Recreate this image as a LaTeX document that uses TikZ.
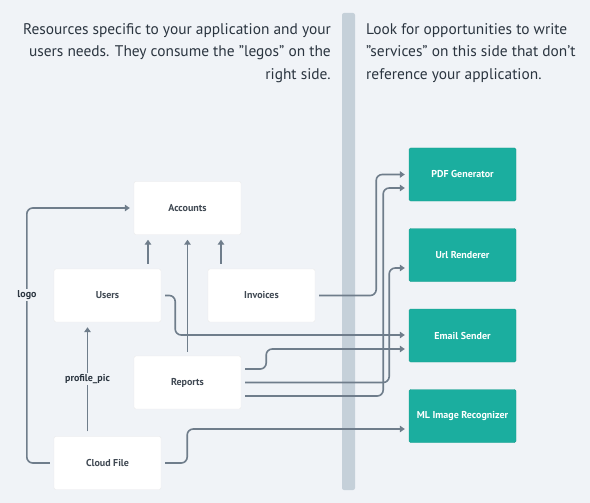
\documentclass[tikz,border=0pt]{standalone}
\usepackage{fontspec}
\setmainfont{PT Sans}
\usetikzlibrary{arrows.meta}
\definecolor{bgc}{HTML}{F0F3F7}
\definecolor{barc}{HTML}{C5D0D9}
\definecolor{linec}{HTML}{6F7D8B}
\definecolor{txtc}{HTML}{2B3540}
\definecolor{teal}{HTML}{1BAE9F}
\tikzset{
  res/.style={draw=white!92!black, fill=white, rounded corners=2pt, minimum width=107pt, minimum height=53pt, inner sep=0pt, font=\fontsize{10}{12}\selectfont\bfseries, text=txtc!90},
  svc/.style={draw=teal!90!black, fill=teal, rounded corners=1.5pt, minimum width=107pt, minimum height=53pt, inner sep=0pt, font=\fontsize{10}{12}\selectfont\bfseries, text=white},
  conn/.style={draw=linec, line width=1.6pt, rounded corners=6pt},
  arr/.style={conn, -{Triangle[length=5pt,width=6.5pt]}},
  lbl/.style={fill=bgc, inner sep=1.5pt, font=\fontsize{10}{12}\selectfont\bfseries, text=txtc},
  para/.style={font=\fontsize{15.4}{22.5}\selectfont, text=txtc, inner sep=0pt}
}
\begin{document}
\begin{tikzpicture}[x=1pt,y=-1pt]
\fill[bgc] (0,0) rectangle (590,503);
\useasboundingbox (0,0) rectangle (590,503);
% divider
\fill[barc, rounded corners=2pt] (342,13) rectangle (355,490);
% paragraphs
\node[para, align=right, anchor=north east] (lefttext) at (331,23) {Resources specific to your application and your\\users needs. They consume the "legos" on the\\right side.};
\node[para, align=left, anchor=north west] (righttext) at (366,23) {Look for opportunities to write\\"services" on this side that don't\\reference your application.};
% resources
\node[res] (accounts) at (187.5,208) {Accounts};
\node[res] (users) at (107.5,295.5) {Users};
\node[res] (invoices) at (261.5,295.5) {Invoices};
\node[res] (reports) at (187.5,382.5) {Reports};
\node[res] (cloud) at (107.5,463) {Cloud File};
% services
\node[svc] (pdf) at (462.5,174.5) {PDF Generator};
\node[svc] (url) at (462.5,255) {Url Renderer};
\node[svc] (email) at (462.5,335.5) {Email Sender};
\node[svc] (ml) at (462.5,416) {ML Image Recognizer};
% connectors to accounts
\draw[arr] ([xshift=40.5pt,yshift=5pt]users.north) -- ([xshift=-39.5pt,yshift=-5pt]accounts.south);
\draw[arr] ([xshift=-40.5pt,yshift=5pt]invoices.north) -- ([xshift=33.5pt,yshift=-5pt]accounts.south);
\draw[arr] ([yshift=4pt]reports.north) -- ([yshift=-5pt]accounts.south);
% logo
\draw[arr] ([xshift=-4pt]cloud.west) -- ([xshift=-27pt]cloud.west) |- ([xshift=-4pt]accounts.west);
\node[lbl] (logo) at (27,295) {logo};
% profile_pic
\draw[arr] ([xshift=-20pt,yshift=5pt]cloud.north) -- ([xshift=-20pt,yshift=-5pt]users.south);
\node[lbl] (ppic) at (87.5,379) {profile\_pic};
% users -> email
\draw[arr] ([xshift=4pt]users.east) -- ([xshift=14pt]users.east) |- ([xshift=-4pt,yshift=0.5pt]email.west);
% invoices -> pdf
\draw[arr] ([xshift=4pt]invoices.east) -- ([xshift=61pt]invoices.east) |- ([xshift=-4pt]pdf.west);
% reports -> email
\draw[arr] ([xshift=4pt,yshift=13.5pt]reports.east) -- ([xshift=25pt,yshift=13.5pt]reports.east) |- ([xshift=-4pt,yshift=-13.5pt]email.west);
% reports -> url
\draw[arr] ([xshift=4pt]reports.east) -- ([xshift=148pt]reports.east) |- ([xshift=-4pt,yshift=-13pt]url.west);
% reports -> pdf
\draw[arr] ([xshift=4pt,yshift=-13.5pt]reports.east) -- ([xshift=142pt,yshift=-13.5pt]reports.east) |- ([xshift=-4pt,yshift=-13.5pt]pdf.west);
% cloud -> ml
\draw[arr] ([xshift=4pt]cloud.east) -- ([xshift=26pt]cloud.east) |- ([xshift=-4pt,yshift=-13pt]ml.west);
\end{tikzpicture}
\end{document}
